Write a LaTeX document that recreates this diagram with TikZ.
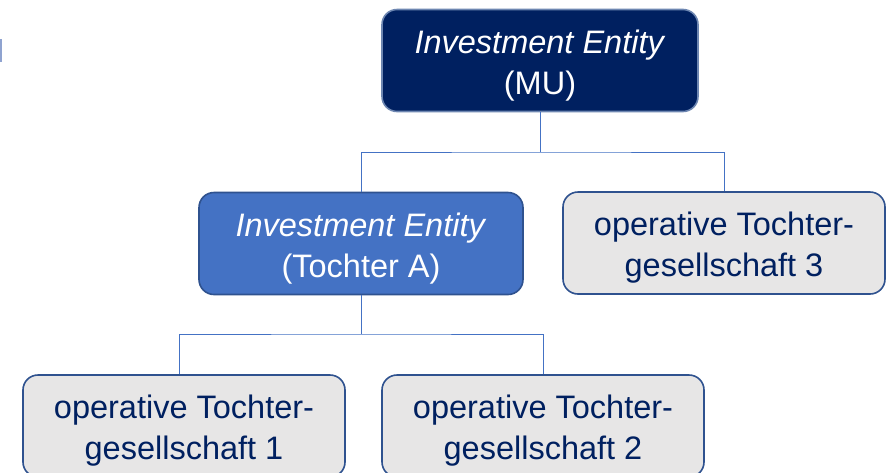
\documentclass[tikz,border=0pt]{standalone}
\usepackage{fontspec}
\setmainfont{Liberation Sans}
\definecolor{navy}{HTML}{002060}
\definecolor{midblue}{HTML}{4472C4}
\definecolor{edgeblue}{HTML}{2F528F}
\definecolor{boxgrey}{HTML}{E7E6E6}
\definecolor{markblue}{HTML}{8FA3D0}
\newcommand\firststrut{\rule{0pt}{33pt}}
\tikzset{
  box/.style={rectangle, rounded corners=15pt, line width=1.6pt, draw=edgeblue,
    align=center, inner sep=0pt, minimum height=102pt,
    font=\fontsize{32.5}{41}\selectfont},
  topbox/.style={box, fill=navy, text=white, draw=edgeblue!70!white, minimum width=316pt},
  ibox/.style={box, fill=midblue, text=white, minimum width=324pt},
  opbox/.style={box, fill=boxgrey, text=navy, minimum width=322pt},
  conn/.style={draw=midblue, line width=1pt}
}
\begin{document}
\begin{tikzpicture}[x=1pt,y=-1pt]
\useasboundingbox (0,0) rectangle (890,472);
\clip (0,0) rectangle (890,472);
\fill[white] (0,0) rectangle (890,472);
\draw[markblue, line width=1.5pt] (0.75,39) -- (0.75,62);
\node[topbox] (mu) at (540,60.5) {\firststrut\textit{Investment Entity}\\(MU)};
\node[ibox] (ta) at (361,243.5) {\firststrut\textit{Investment Entity}\\(Tochter A)};
\node[opbox] (t3) at (724,243) {\firststrut operative Tochter-\\gesellschaft 3};
\node[opbox] (t1) at (184,426) {\firststrut operative Tochter-\\gesellschaft 1};
\node[opbox] (t2) at (543,426) {\firststrut operative Tochter-\\gesellschaft 2};
\coordinate (j1) at (540,152);
\coordinate (j2) at (361,334);
\draw[conn] (mu.south) -- (j1);
\draw[conn] (ta.north) |- (j1) -| (t3.north);
\draw[conn] (ta.south) -- (j2);
\draw[conn] ([xshift=-5pt]t1.north) |- (j2) -| (t2.north);
\end{tikzpicture}
\end{document}
